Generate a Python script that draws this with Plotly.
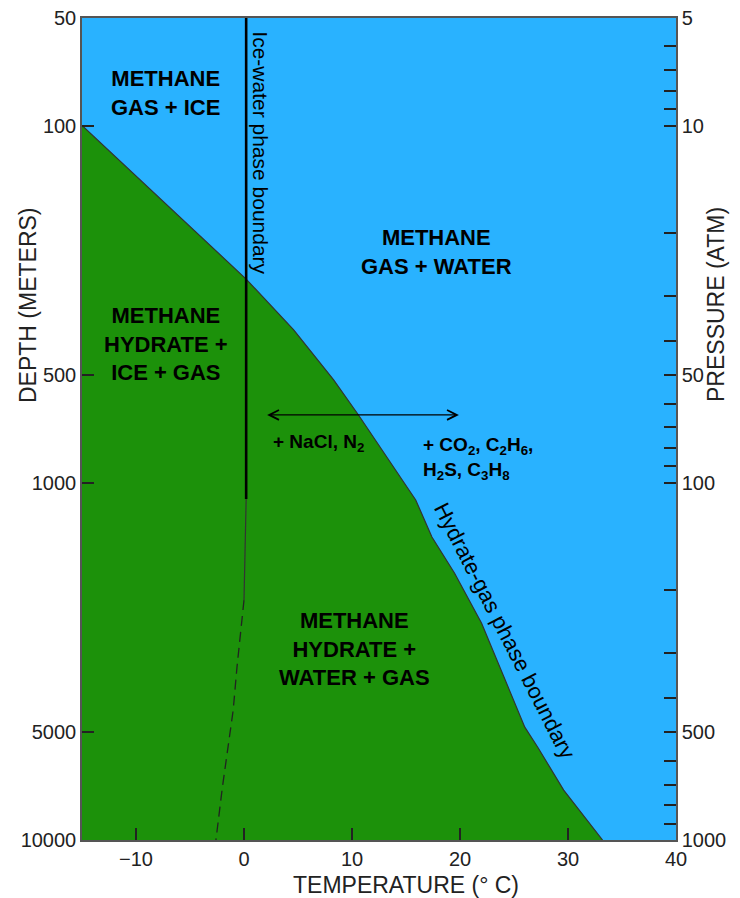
import math
import plotly.graph_objects as go

# ---------------- data ----------------
# Hydrate-gas phase boundary (temperature degC, depth m)
hyd_temp = [-15.0, 0.2, 4.6, 8.3, 10.6, 14.7, 15.9, 17.4, 19.5, 22.0, 24.1, 26.0, 27.2, 29.6, 33.2]
hyd_depth = [100, 269, 373, 515, 646, 982, 1117, 1419, 1791, 2473, 3501, 4831, 5500, 7250, 10000]

# Ice-water phase boundary
ice_solid_temp = [0.2, 0.2]
ice_solid_depth = [50, 1110]
ice_thin_temp = [0.2, 0.1, 0.0]
ice_thin_depth = [1110, 1700, 2130]
ice_dash_temp = [0.0, -0.34, -0.65, -1.0, -1.55, -2.0, -2.6]
ice_dash_depth = [2130, 2634, 3283, 4329, 5600, 7117, 10000]

# axes
x_ticks = [-10, 0, 10, 20, 30, 40]
depth_ticks = [50, 100, 500, 1000, 5000, 10000]
pressure_ticks = [5, 10, 50, 100, 500, 1000]
pressure_minor = [6, 7, 8, 9, 20, 30, 40, 60, 70, 80, 90, 200, 300, 400, 600, 700, 800, 900]

BLUE = "rgb(41,178,255)"
GREEN = "rgb(28,145,10)"
FONT = "Liberation Sans, Arial, sans-serif"
L = math.log10

fig = go.Figure()

# green hydrate region
fig.add_trace(go.Scatter(
    x=hyd_temp + [hyd_temp[0]], y=hyd_depth + [hyd_depth[-1]],
    fill="toself", fillcolor=GREEN, mode="lines",
    line=dict(color="rgba(0,0,0,0)", width=0), hoverinfo="skip", showlegend=False))
# boundary line
fig.add_trace(go.Scatter(x=hyd_temp, y=hyd_depth, mode="lines",
                         line=dict(color="#333", width=1.2), showlegend=False))
# ice-water boundary
fig.add_trace(go.Scatter(x=ice_solid_temp, y=ice_solid_depth, mode="lines",
                         line=dict(color="black", width=2.6), showlegend=False))
fig.add_trace(go.Scatter(x=ice_thin_temp, y=ice_thin_depth, mode="lines",
                         line=dict(color="#333", width=1.2), showlegend=False))
fig.add_trace(go.Scatter(x=ice_dash_temp, y=ice_dash_depth, mode="lines",
                         line=dict(color="#222", width=1.3, dash="10px,6px"), showlegend=False))
# invisible trace for right axis
fig.add_trace(go.Scatter(x=[40], y=[1000], yaxis="y2", mode="markers",
                         marker=dict(opacity=0), showlegend=False, hoverinfo="skip"))

ann = []
def label(text, x, yd, size=22, bold=True, angle=0, align="center", xanchor="center"):
    ann.append(dict(text=f"<b>{text}</b>" if bold else text, x=x, y=L(yd), xref="x", yref="y",
                    showarrow=False, textangle=angle, align=align, xanchor=xanchor,
                    yanchor="middle", font=dict(family=FONT, size=size, color="black")))

label("METHANE<br>GAS + ICE", -7.3, 81)
label("METHANE<br>GAS + WATER", 17.8, 10 ** 2.354)
label("METHANE<br>HYDRATE +<br>ICE + GAS", -7.2, 10 ** 2.612)
label("METHANE<br>HYDRATE +<br>WATER + GAS", 10.2, 10 ** 3.466)
label("+ NaCl, N<sub>2</sub>", 6.9, 10 ** 2.889, size=19)
label("+ CO<sub>2</sub>, C<sub>2</sub>H<sub>6</sub>,<br>H<sub>2</sub>S, C<sub>3</sub>H<sub>8</sub>",
      16.4, 10 ** 2.931, size=19, align="left", xanchor="left")
label("Ice-water phase boundary", 1.55, 10 ** 2.077, size=21, bold=False, angle=90)
label("Hydrate-gas phase boundary", 24.2, 10 ** 3.415, size=22, bold=False, angle=63)

# double arrow
ann.append(dict(x=19.9, y=2.81, ax=2.0, ay=2.81, xref="x", yref="y", axref="x", ayref="y",
                text="", showarrow=True, arrowside="end+start", arrowhead=5, startarrowhead=5,
                arrowsize=1.6, startarrowsize=1.6, arrowwidth=1.2, arrowcolor="black"))

# axis titles (positions given in screen pixels, converted below)
ttl = dict(xref="paper", yref="paper", showarrow=False, xanchor="center", yanchor="middle")
ann.append(dict(text="DEPTH (METERS)", x=28, y=305, textangle=-90,
                font=dict(family=FONT, size=23, color="#222"), **ttl))
ann.append(dict(text="PRESSURE (ATM)", x=716, y=305, textangle=-90,
                font=dict(family=FONT, size=23, color="#222"), **ttl))
ann.append(dict(text="TEMPERATURE (° C)", x=406, y=885,
                font=dict(family=FONT, size=23, color="#222"), **ttl))

# page has an 8px body margin; plot area on screen: x 82..676, y 18..840
W, H = 740, 898
OFF = 8
PL, PR, PT, PB = 82, 676, 18, 840
ml, mr, mt, mb = PL - OFF, W - (PR - OFF), PT - OFF, H - (PB - OFF)
for a in ann:
    if a.get("xref") == "paper":
        a["x"] = (a["x"] - PL) / (PR - PL)
        a["y"] = 1 - (a["y"] - PT) / (PB - PT)

tickfont = dict(family=FONT, size=20, color="#222")
common = dict(ticks="inside", ticklen=12, tickwidth=1.5, tickcolor="#222", automargin=False,
              showgrid=False, zeroline=False, showline=True, linecolor="#555", linewidth=1.5,
              tickfont=tickfont, ticklabeloverflow="allow")
fig.update_layout(
    width=W, height=H, margin=dict(l=ml, r=mr, t=mt, b=mb, autoexpand=False),
    paper_bgcolor="white", plot_bgcolor=BLUE, showlegend=False,
    xaxis=dict(range=[-15, 40], tickvals=x_ticks, ticktext=["−10", "0", "10", "20", "30", "40"],
               mirror=True, **common),
    yaxis=dict(type="log", range=[L(10000), L(50)], tickvals=depth_ticks,
               ticktext=[str(v) for v in depth_ticks], **common),
    yaxis2=dict(type="log", range=[L(1000), L(5)], overlaying="y", side="right",
                tickvals=pressure_ticks, ticktext=[str(v) for v in pressure_ticks],
                minor=dict(tickvals=pressure_minor, ticks="inside", ticklen=12, tickwidth=1.5,
                           tickcolor="#222"),
                **common),
    annotations=ann,
)

fig.write_html("out.html")
